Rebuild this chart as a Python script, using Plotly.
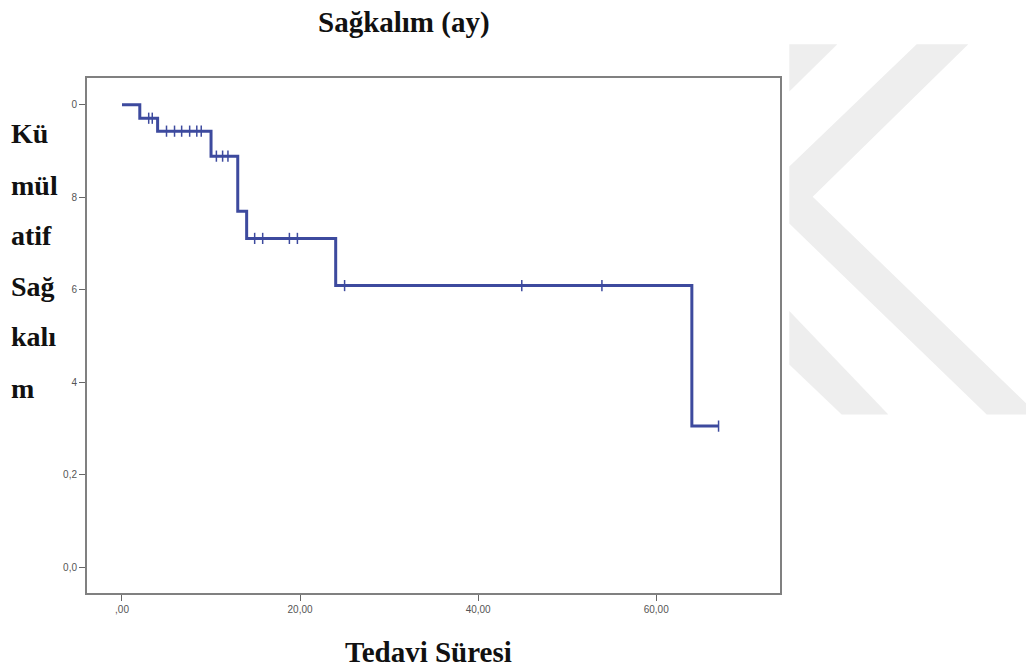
import plotly.graph_objects as go

W, H = 1026, 670

# ---- data ----
event_times = [0, 2, 4, 10, 13, 14, 24, 64, 67]
survival = [1.0, 0.971, 0.943, 0.889, 0.770, 0.711, 0.609, 0.305, 0.305]
censor_times = [3.0, 3.4, 5.0, 5.9, 6.7, 7.6, 8.4, 8.9, 10.6, 11.3, 11.9,
                14.9, 15.8, 18.8, 19.7, 25.0, 44.9, 53.9, 67.0]

x_tickvals = [0, 20, 40, 60]
x_ticktext = [",00", "20,00", "40,00", "60,00"]
y_tickvals = [0.0, 0.2, 0.4, 0.6, 0.8, 1.0]
y_ticktext = ["0,0", "0,2", "4", "6", "8", "0"]

title_text = "Sağkalım (ay)"
x_title = "Tedavi Süresi"
y_title_lines = ["Kü", "mül", "atif", "Sağ", "kalı", "m"]


def surv_at(t):
    s = survival[0]
    for et, sv in zip(event_times, survival):
        if et <= t:
            s = sv
    return s


censor_y = [surv_at(t) for t in censor_times]

LINE = "#3D4A9E"


def px(x):
    return x / W


def py(y):
    return 1 - y / H


fig = go.Figure()
fig.add_trace(go.Scatter(x=event_times, y=survival, mode="lines",
                         line=dict(shape="hv", color=LINE, width=3),
                         showlegend=False, hoverinfo="skip"))
fig.add_trace(go.Scatter(x=censor_times, y=censor_y, mode="markers",
                         marker=dict(symbol="line-ns", size=8,
                                     line=dict(color=LINE, width=1.5)),
                         showlegend=False, hoverinfo="skip"))

# watermark polygons (pixel coordinates of the page)
polys = [
    [(789.3, 44.3), (837.3, 44.3), (789.3, 91.4)],
    [(916.7, 44.3), (968.3, 44.3), (812.7, 196.8), (1026, 403.2),
     (1026, 414.6), (986.7, 414.6), (789.3, 223.6), (789.3, 166.4)],
    [(789.3, 311.0), (888.3, 414.6), (841.7, 414.6), (789.3, 364.6)],
]
shapes = []
for poly in polys:
    path = "M " + " L ".join(f"{px(a):.5f},{py(b):.5f}" for a, b in poly) + " Z"
    shapes.append(dict(type="path", xref="paper", yref="paper", path=path,
                       fillcolor="#eeeeee", line=dict(width=0), layer="below"))

annotations = [
    dict(text=f"<b>{title_text}</b>", x=px(404), y=py(22), xref="paper", yref="paper",
         showarrow=False, xanchor="center", yanchor="middle",
         font=dict(family="Liberation Serif", size=29, color="#111")),
    dict(text=f"<b>{x_title}</b>", x=px(428), y=py(652), xref="paper", yref="paper",
         showarrow=False, xanchor="center", yanchor="middle",
         font=dict(family="Liberation Serif", size=29, color="#111")),
]
y_mids = [134, 185, 235, 286, 336, 388]
for txt, ym in zip(y_title_lines, y_mids):
    annotations.append(dict(text=f"<b>{txt}</b>", x=px(9), y=py(ym), xref="paper", yref="paper",
                            showarrow=False, xanchor="left", yanchor="middle",
                            font=dict(family="Liberation Serif", size=28, color="#111")))

fig.update_layout(
    width=W, height=H,
    margin=dict(l=0, r=0, t=0, b=0),
    paper_bgcolor="white", plot_bgcolor="white",
    shapes=shapes, annotations=annotations,
    xaxis=dict(domain=[px(87), px(780)], range=[-3.93, 73.9],
               tickvals=x_tickvals, ticktext=x_ticktext,
               ticks="outside", ticklen=6, tickcolor="#666", tickwidth=1,
               showline=True, linecolor="#808080", linewidth=2, mirror=True,
               showgrid=False, zeroline=False, automargin=False,
               tickfont=dict(family="Liberation Sans", size=10, color="#555")),
    yaxis=dict(domain=[py(593), py(78)], range=[-0.056, 1.058],
               tickvals=y_tickvals, ticktext=y_ticktext,
               ticks="outside", ticklen=6, tickcolor="#666", tickwidth=1,
               showline=True, linecolor="#808080", linewidth=2, mirror=True,
               showgrid=False, zeroline=False, automargin=False,
               tickfont=dict(family="Liberation Sans", size=10, color="#555")),
)

fig.write_html("out.html")
